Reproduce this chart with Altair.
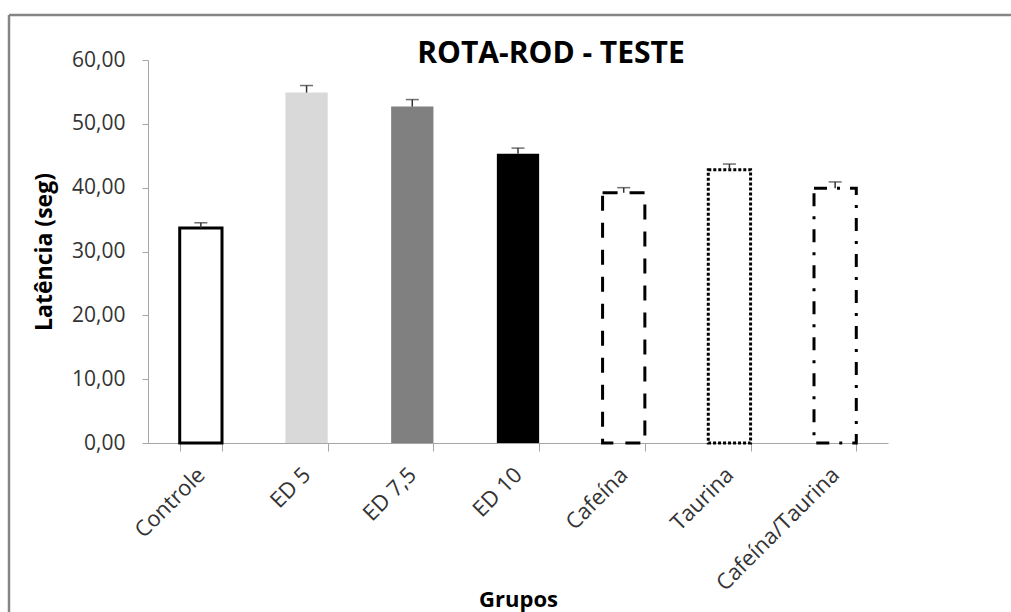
import altair as alt
import pandas as pd

# Rota-rod test latency per group (mean and standard error)
groups = ["Controle", "ED 5", "ED 7,5", "ED 10", "Cafeína", "Taurina", "Cafeína/Taurina"]
means = [33.7, 54.9, 52.7, 45.3, 39.2, 42.8, 39.9]
errors = [0.8, 1.1, 1.1, 0.9, 0.8, 0.9, 1.0]
chart_title = "ROTA-ROD - TESTE"

filled_groups = ["ED 5", "ED 7,5", "ED 10"]
filled_colors = ["#d9d9d9", "#808080", "#000000"]
outlined_groups = ["Controle", "Cafeína", "Taurina", "Cafeína/Taurina"]
outline_dashes = [[1, 0], [15, 12], [3, 2], [13, 10, 3, 10]]

df = pd.DataFrame({"grupo": groups, "media": means, "erro": errors})
df["topo"] = df["media"] + df["erro"]

FONT = "Open Sans"
AXIS_GRAY = "#a6a6a6"
LABEL = "#333333"

x_enc = alt.X(
    "grupo:N",
    sort=groups,
    scale=alt.Scale(paddingInner=0.6, paddingOuter=0.3),
    axis=alt.Axis(
        title="Grupos",
        labelAngle=-45,
        labelAlign="right",
        labelBaseline="middle",
        labelFont=FONT,
        labelFontSize=22,
        labelColor=LABEL,
        labelPadding=20,
        tickBand="extent",
        tickSize=8,
        tickColor=AXIS_GRAY,
        domainColor=AXIS_GRAY,
        titleFont=FONT,
        titleFontSize=22,
        titleFontWeight="bold",
        titleColor="#000000",
        titleX=370,
        titleY=163,
        titleAlign="center",
        titleBaseline="alphabetic",
    ),
)

y_scale = alt.Scale(domain=[0, 60], nice=False)
y_axis = alt.Axis(
    title="Latência (seg)",
    values=[0, 10, 20, 30, 40, 50, 60],
    labelExpr="replace(format(datum.value, '.2f'), '.', ',')",
    labelFont=FONT,
    labelFontSize=21,
    labelColor=LABEL,
    labelPadding=17,
    tickSize=6,
    tickColor=AXIS_GRAY,
    domainColor=AXIS_GRAY,
    grid=False,
    titleFont=FONT,
    titleFontSize=23,
    titleFontWeight="bold",
    titleColor="#000000",
    titleX=-104,
    titleY=191.5,
    titleAngle=-90,
    titleAlign="center",
    titleBaseline="middle",
)

base = alt.Chart(df)

filled = base.transform_filter(
    alt.FieldOneOfPredicate(field="grupo", oneOf=filled_groups)
).mark_bar(strokeWidth=0).encode(
    x=x_enc,
    y=alt.Y("media:Q", scale=y_scale, axis=y_axis),
    fill=alt.Fill("grupo:N", scale=alt.Scale(domain=filled_groups, range=filled_colors), legend=None),
)

outlined = base.transform_filter(
    alt.FieldOneOfPredicate(field="grupo", oneOf=outlined_groups)
).mark_bar(fill="white", stroke="black", strokeWidth=3).encode(
    x=x_enc,
    y=alt.Y("media:Q", scale=y_scale, axis=y_axis),
    strokeDash=alt.StrokeDash(
        "grupo:N", scale=alt.Scale(domain=outlined_groups, range=outline_dashes), legend=None
    ),
)

stems = base.mark_rule(color="#333333", strokeWidth=1.5).encode(
    x=alt.X("grupo:N", sort=groups),
    y=alt.Y("media:Q", scale=y_scale),
    y2="topo:Q",
)

caps = base.mark_tick(color="#333333", size=13, thickness=1.5).encode(
    x=alt.X("grupo:N", sort=groups),
    y=alt.Y("topo:Q", scale=y_scale),
)

single = alt.Chart(pd.DataFrame({"titulo": [chart_title]}))

# Chart heading, drawn as a text mark above the plot
heading = single.mark_text(
    font=FONT, fontSize=30, fontWeight="bold", color="#000000",
    align="center", baseline="alphabetic",
).encode(text="titulo:N", x=alt.value(403), y=alt.value(3))

# Outer frame of the chart area
frame_top = single.mark_rule(color="#868686", strokeWidth=2.5).encode(
    x=alt.value(-139), x2=alt.value(900), y=alt.value(-45)
)
frame_left = single.mark_rule(color="#868686", strokeWidth=2.5).encode(
    x=alt.value(-139), y=alt.value(-45), y2=alt.value(600)
)

chart = alt.layer(filled, outlined, stems, caps, heading, frame_top, frame_left).properties(
    width=740,
    height=383,
    padding={"left": 148, "top": 60, "right": 123, "bottom": 169},
    autosize=alt.AutoSizeParams(type="none"),
    background="white",
).configure_view(stroke=None)

chart.save("out.html", embed_options={"renderer": "svg", "actions": False})
